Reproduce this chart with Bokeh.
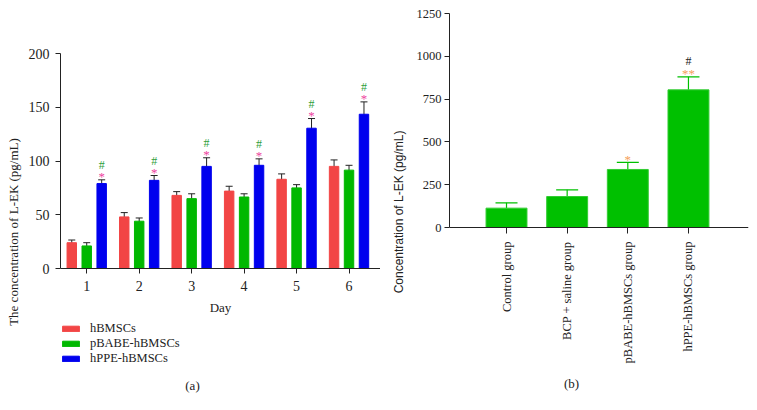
import math
from bokeh.plotting import figure
from bokeh.models import (ColumnDataSource, Whisker, TeeHead, Legend, LegendItem,
                          FixedTicker, Label)
from bokeh.core.properties import value
from bokeh.embed import file_html
from bokeh.resources import INLINE

# ---------------- data (a) ----------------
days = [1, 2, 3, 4, 5, 6]
series_names = ["hBMSCs", "pBABE-hBMSCs", "hPPE-hBMSCs"]
hbmsc_mean = [24, 48, 68, 72, 83, 95]
hbmsc_err = [2.5, 4, 3.5, 4.5, 5, 6]
pbabe_mean = [21, 44, 65, 66.5, 75, 91.5]
pbabe_err = [3, 3, 4.5, 3, 3, 4.5]
hppe_mean = [79, 82, 95, 96, 130.5, 143.5]
hppe_err = [3.5, 4.5, 8, 6, 9, 11.5]
hppe_star = ["*", "*", "*", "*", "*", "*"]
hppe_hash = ["#", "#", "#", "#", "#", "#"]
a_yticks = [0, 50, 100, 150, 200]
a_ymax = 200

# ---------------- data (b) ----------------
groups = ["Control group", "BCP + saline group", "pBABE-hBMSCs group", "hPPE-hBMSCs group"]
group_mean = [113, 181, 339, 804]
group_err = [31, 39, 41, 76]
group_star = ["", "", "*", "**"]
group_hash = ["", "", "", "#"]
b_yticks = [0, 250, 500, 750, 1000, 1250]
b_ymax = 1250

FONT = "Liberation Serif"
SANS = "Liberation Sans"
TXT = "#222222"
RED = "#F24545"
GREEN_A = "#00B800"
BLUE = "#0000EE"
GREEN_B = "#00C000"
H = 410


def style_axes(p, tick_size):
    for ax in (p.xaxis[0], p.yaxis[0]):
        ax.axis_line_color = TXT
        ax.major_tick_line_color = TXT
        ax.minor_tick_line_color = None
        ax.major_tick_in = 0
        ax.major_label_text_font = FONT
        ax.major_label_text_color = TXT
        ax.major_label_text_font_size = tick_size
        ax.axis_label_text_font = FONT
        ax.axis_label_text_font_style = "normal"
        ax.axis_label_text_color = TXT
    p.xgrid.grid_line_color = None
    p.ygrid.grid_line_color = None
    p.outline_line_color = None
    p.background_fill_color = "white"
    p.border_fill_color = "white"


# ================= panel (a) =================
# frame spans from the top of the value axis down to the bottom of the page;
# the x axis sits at y = 0 inside it
a_top, a_zero = 53, 268
a_ystart = -a_ymax * (H - a_zero) / (a_zero - a_top)
pa = figure(frame_width=320, frame_height=H - a_top, x_range=(0.5, 6.6),
            y_range=(a_ystart, a_ymax),
            output_backend="svg", toolbar_location=None, name="pa",
            min_border_left=60, min_border_right=0, min_border_top=a_top, min_border_bottom=0)
style_axes(pa, "14px")
pa.xaxis.ticker = FixedTicker(ticks=days)
pa.xaxis.fixed_location = 0
pa.yaxis.ticker = FixedTicker(ticks=a_yticks)
pa.yaxis.bounds = (0, a_ymax)
pa.xaxis.axis_label = "Day"
pa.yaxis.axis_label = "The concentration of L-EK (pg/mL)"
pa.xaxis.major_tick_out = 5
pa.yaxis.major_tick_out = 5
pa.yaxis.major_label_standoff = 6
pa.xaxis.major_label_standoff = 7
pa.xaxis.axis_label_standoff = 6
pa.yaxis.axis_label_standoff = 5
pa.xaxis.axis_label_text_font_size = "13px"
pa.yaxis.axis_label_text_font_size = "13px"

off = 0.285
bw = 0.18
means = [hbmsc_mean, pbabe_mean, hppe_mean]
errs = [hbmsc_err, pbabe_err, hppe_err]
colors = [RED, GREEN_A, BLUE]
items = []
for i, (m, e, c, name) in enumerate(zip(means, errs, colors, series_names)):
    xs = [d + (i - 1) * off for d in days]
    src = ColumnDataSource(dict(x=xs, top=m, lower=[a - b for a, b in zip(m, e)],
                                upper=[a + b for a, b in zip(m, e)]))
    r = pa.vbar(x="x", top="top", bottom=0, width=bw, source=src, fill_color=c, line_color=c)
    pa.add_layout(Whisker(base="x", lower="lower", upper="upper", source=src,
                          line_color=TXT, line_width=1,
                          upper_head=TeeHead(size=7, line_color=TXT, line_width=1),
                          lower_head=TeeHead(size=7, line_color=TXT, line_width=1)))
    items.append(LegendItem(label=name, renderers=[r]))

sig_src = ColumnDataSource(dict(x=[d + off for d in days],
                                y=[a + b for a, b in zip(hppe_mean, hppe_err)],
                                star=hppe_star, hash=hppe_hash))
pa.text(x="x", y="y", text="star", source=sig_src, text_color="#EE3FA0",
        text_font=value(FONT), text_font_size="13px", text_align="center",
        text_baseline="middle", y_offset=-3)
pa.text(x="x", y="y", text="hash", source=sig_src, text_color="#2E9E3A",
        text_font=value(FONT), text_font_size="12px", text_align="center",
        text_baseline="middle", y_offset=-15)

legend = Legend(items=items, location=(0, 44), orientation="vertical",
                border_line_color=None, background_fill_alpha=0,
                label_text_font=FONT, label_text_font_size="12.5px", label_text_color=TXT,
                glyph_width=21, glyph_height=7, label_height=14, label_standoff=9,
                spacing=0, padding=0, margin=0)
pa.add_layout(legend)
pa.add_layout(Label(x=132, y=H - 385, x_units="screen", y_units="screen", text="(a)",
                    text_font=FONT, text_font_size="13px", text_color=TXT,
                    text_align="center", text_baseline="middle"))

# ================= panel (b) =================
b_top, b_zero = 13, 227
b_ystart = -b_ymax * (H - b_zero) / (b_zero - b_top)
pb = figure(frame_width=299, frame_height=H - b_top, x_range=(0.06, 4.99),
            y_range=(b_ystart, b_ymax),
            output_backend="svg", toolbar_location=None, name="pb",
            min_border_left=69, min_border_right=9, min_border_top=b_top, min_border_bottom=0)
style_axes(pb, "12.5px")
xpos = list(range(1, len(groups) + 1))
pb.xaxis.ticker = FixedTicker(ticks=xpos)
pb.xaxis.fixed_location = 0
pb.xaxis.major_label_overrides = {k: g for k, g in zip(xpos, groups)}
pb.xaxis.major_label_orientation = math.pi / 2
pb.yaxis.ticker = FixedTicker(ticks=b_yticks)
pb.yaxis.bounds = (0, b_ymax)
pb.yaxis.axis_label = "Concentration of L-EK (pg/mL)"
pb.yaxis.axis_label_text_font = SANS
pb.yaxis.axis_label_text_font_size = "12px"
pb.xaxis.major_tick_out = 6
pb.yaxis.major_tick_out = 5
pb.yaxis.major_label_standoff = 3
pb.xaxis.major_label_standoff = 8
pb.yaxis.axis_label_standoff = 8

bsrc = ColumnDataSource(dict(x=xpos, top=group_mean,
                             upper=[a + b for a, b in zip(group_mean, group_err)],
                             star=group_star, hash=group_hash))
pb.vbar(x="x", top="top", bottom=0, width=0.675, source=bsrc, fill_color=GREEN_B,
        line_color="#33CC33")
pb.add_layout(Whisker(base="x", lower="top", upper="upper", source=bsrc,
                      line_color=GREEN_B, line_width=1.2,
                      upper_head=TeeHead(size=22, line_color=GREEN_B, line_width=1.2),
                      lower_head=None))
pb.text(x="x", y="upper", text="star", source=bsrc, text_color="#F5A05A",
        text_font=value(FONT), text_font_size="13px", text_align="center",
        text_baseline="middle", y_offset=-3)
pb.text(x="x", y="upper", text="hash", source=bsrc, text_color=TXT,
        text_font=value(FONT), text_font_size="12px", text_align="center",
        text_baseline="middle", y_offset=-16)
pb.add_layout(Label(x=122, y=H - 383, x_units="screen", y_units="screen", text="(b)",
                    text_font=FONT, text_font_size="13px", text_color=TXT,
                    text_align="center", text_baseline="middle"))

TEMPLATE = """
{% block contents %}
<div style="display: flex; flex-direction: row; align-items: flex-start;">
{{ embed(roots.pa) }}
{{ embed(roots.pb) }}
</div>
{% endblock %}
"""

open("out.html", "w").write(file_html([pa, pb], INLINE, template=TEMPLATE))
